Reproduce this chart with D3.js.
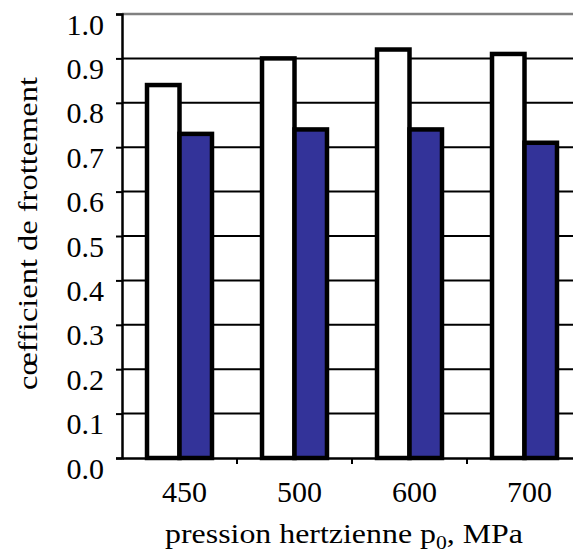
<!DOCTYPE html>
<html>
<head>
<meta charset="utf-8">
<script src="https://cdn.jsdelivr.net/npm/d3@7"></script>
<style>
  body { margin: 0; background: #fff; }
  svg { display: block; }
  text { font-family: "Liberation Serif", "Times New Roman", serif; fill: #000; }
</style>
</head>
<body>
<svg id="chart" width="573" height="553"></svg>
<script>
// data
const categories = ["450", "500", "600", "700"];
const series = ["white", "blue"];
const whiteValues = [0.84, 0.90, 0.92, 0.91];
const blueValues = [0.73, 0.74, 0.74, 0.71];
const yTicks = [0, 0.1, 0.2, 0.3, 0.4, 0.5, 0.6, 0.7, 0.8, 0.9, 1.0];

const data = categories.map((c, i) => ({ cat: c, white: whiteValues[i], blue: blueValues[i] }));

const serif = "'Liberation Serif', 'Times New Roman', serif";
const margin = { top: 14, left: 122, bottom: 458 };
const bandW = 115;
const svg = d3.select("#chart");

const x = d3.scaleBand()
  .domain(categories)
  .range([margin.left, margin.left + bandW * categories.length])
  .padding(0);

const xSub = d3.scaleBand()
  .domain(series)
  .range([0, x.bandwidth()])
  .paddingInner(0)
  .paddingOuter(0.77);

const y = d3.scaleLinear().domain([0, 1]).range([margin.bottom, margin.top]);

// gridlines
svg.append("g")
  .selectAll("line")
  .data(yTicks.filter(d => d > 0 && d < 1))
  .enter()
  .append("line")
  .attr("x1", margin.left)
  .attr("x2", 573)
  .attr("y1", d => y(d))
  .attr("y2", d => y(d))
  .attr("stroke", "#000")
  .attr("stroke-width", 2);

// top border (gray)
svg.append("line")
  .attr("x1", margin.left)
  .attr("x2", 573)
  .attr("y1", y(1))
  .attr("y2", y(1))
  .attr("stroke", "#808080")
  .attr("stroke-width", 2.5);

// bars
const groups = svg.append("g")
  .selectAll("g")
  .data(data)
  .enter()
  .append("g")
  .attr("transform", d => "translate(" + x(d.cat) + ",0)");

groups.selectAll("rect")
  .data(d => series.map(s => ({ key: s, val: d[s] })))
  .enter()
  .append("rect")
  .attr("x", d => xSub(d.key))
  .attr("width", xSub.bandwidth())
  .attr("y", d => y(d.val))
  .attr("height", d => y(0) - y(d.val))
  .attr("fill", d => d.key === "white" ? "#ffffff" : "#333399")
  .attr("stroke", "#000")
  .attr("stroke-width", 4.5);

// y axis
const yAxis = svg.append("g")
  .attr("transform", "translate(" + margin.left + ",0)")
  .call(d3.axisLeft(y).tickValues(yTicks).tickSize(6).tickFormat(d3.format(".1f")));
yAxis.attr("font-family", serif);
yAxis.select(".domain").attr("stroke", "#000").attr("stroke-width", 2.5);
yAxis.selectAll(".tick line").attr("stroke", "#000").attr("stroke-width", 2);
yAxis.selectAll(".tick text")
  .attr("x", -18)
  .attr("dy", 20)
  .style("font-size", "30px")
  .style("font-family", serif);

// x axis
const xAxis = svg.append("g")
  .attr("transform", "translate(0," + margin.bottom + ")")
  .call(d3.axisBottom(x).tickSize(0).tickSizeOuter(0));
xAxis.attr("font-family", serif);
xAxis.select(".domain").attr("stroke", "#000").attr("stroke-width", 2.5);
xAxis.selectAll(".tick text")
  .attr("dx", 5)
  .attr("y", 44)
  .attr("dy", 0)
  .style("font-size", "30px")
  .style("font-family", serif);

// x tick marks at band boundaries
xAxis.append("g")
  .selectAll("line")
  .data(categories)
  .enter()
  .append("line")
  .attr("x1", d => x(d) + x.bandwidth())
  .attr("x2", d => x(d) + x.bandwidth())
  .attr("y1", 0)
  .attr("y2", 6)
  .attr("stroke", "#000")
  .attr("stroke-width", 2);

// axis titles
const xTitle = svg.append("text")
  .attr("x", 165)
  .attr("y", 543)
  .attr("textLength", 358)
  .attr("lengthAdjust", "spacingAndGlyphs")
  .style("font-size", "28px")
  .style("font-family", serif);
xTitle.append("tspan").text("pression hertzienne p");
xTitle.append("tspan").attr("dy", 6).style("font-size", "19px").text("0");
xTitle.append("tspan").attr("dy", -6).text(", MPa");

svg.append("text")
  .attr("transform", "translate(37,390) rotate(-90)")
  .attr("x", 0)
  .attr("y", 0)
  .attr("textLength", 313)
  .attr("lengthAdjust", "spacingAndGlyphs")
  .style("font-size", "28px")
  .style("font-family", serif)
  .text("cœfficient de frottement");
</script>
</body>
</html>
